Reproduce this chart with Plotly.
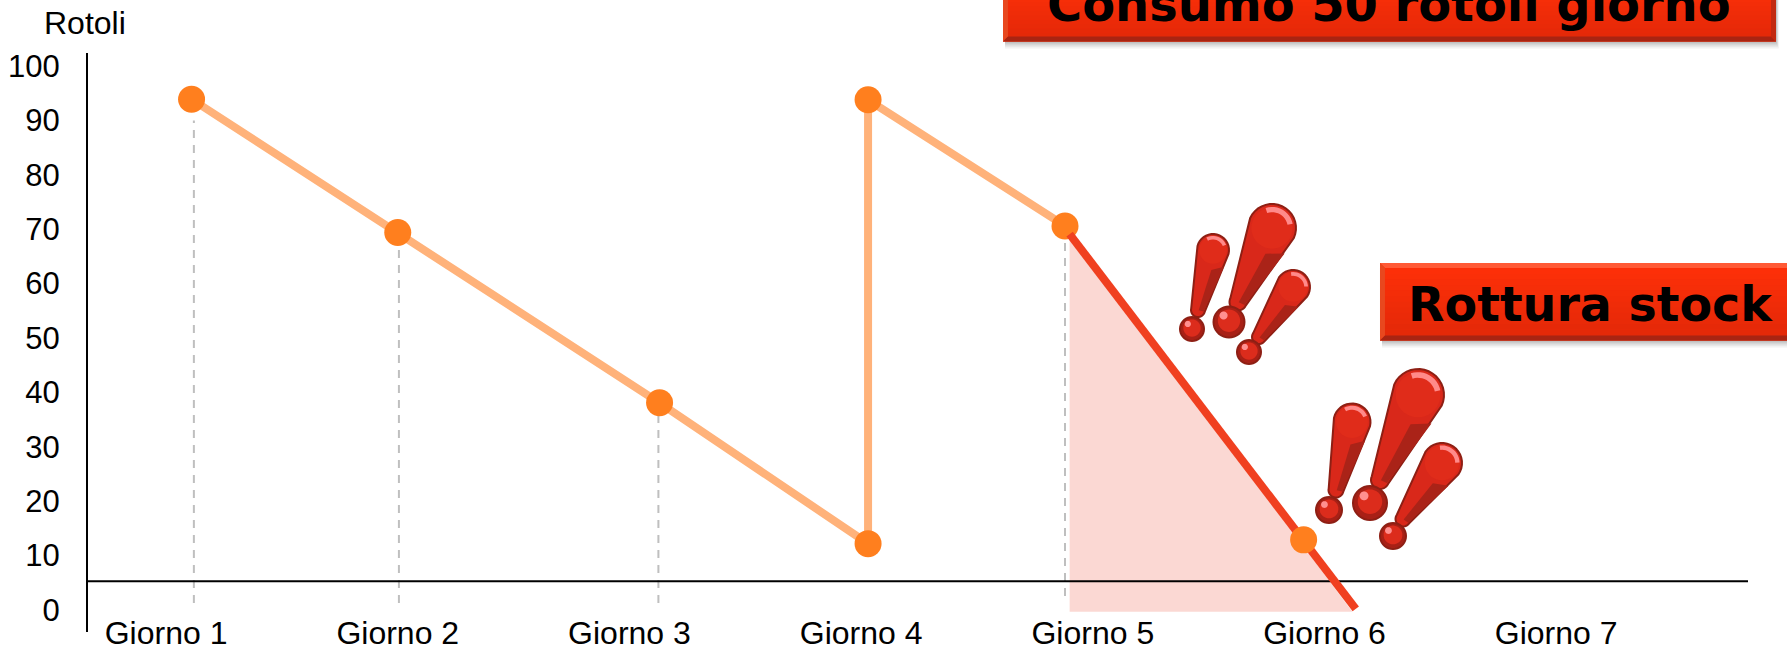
import math
import plotly.graph_objects as go

W, H = 1787, 647

# ---- data ----
day_labels = ["Giorno 1", "Giorno 2", "Giorno 3", "Giorno 4", "Giorno 5", "Giorno 6", "Giorno 7"]
day_ticks = [1, 2, 3, 4, 5, 6, 7]
y_ticks = [0, 10, 20, 30, 40, 50, 60, 70, 80, 90, 100]

stock_x = [1.11, 2.00, 3.13, 4.03, 4.03, 4.88]
stock_y = [93.9, 69.4, 38.1, 12.2, 93.8, 70.6]
marker_x = [1.11, 2.00, 3.13, 4.03, 4.03, 4.88]
marker_y = [93.9, 69.4, 38.1, 12.2, 93.8, 70.6]
last_x = [5.91]
last_y = [12.9]
break_x = [4.90, 6.135]
break_y = [69.1, 0.2]
area_x = [4.90, 4.90, 6.12]
area_y = [69.1, -0.3, -0.3]
drop_x = [1.12, 2.005, 3.125, 4.88]
drop_top = [90.0, 67.0, 36.0, 68.0]
drop_bottom = [1.3, 1.3, 1.3, 2.6]
baseline_y = 5.3
baseline_x = [0.284, 7.828]

ORANGE = "#FF7F1E"
ORANGE_L = "#FFB27A"
RED = "#F04020"
PINK = "#FBD8D3"
FONT = "Liberation Sans, Arial, sans-serif"
BOXFONT = "DejaVu Sans, Verdana, sans-serif"


def px(x):
    return x / W


def py(y):
    return 1 - y / H


traces = [
    go.Scatter(x=area_x, y=area_y, mode="lines", fill="toself", fillcolor=PINK,
               line=dict(width=0), hoverinfo="skip"),
]
for dx, t, b in zip(drop_x, drop_top, drop_bottom):
    traces.append(go.Scatter(x=[dx, dx], y=[b, t], mode="lines",
                             line=dict(color="#BFBFBF", width=2, dash="8px,7px"), hoverinfo="skip"))
traces += [
    go.Scatter(x=baseline_x, y=[baseline_y, baseline_y], mode="lines", cliponaxis=False,
               line=dict(color="#000000", width=2), hoverinfo="skip"),
    go.Scatter(x=stock_x, y=stock_y, mode="lines", line=dict(color=ORANGE_L, width=8)),
    go.Scatter(x=marker_x, y=marker_y, mode="markers", marker=dict(color=ORANGE, size=27)),
    go.Scatter(x=break_x, y=break_y, mode="lines", line=dict(color=RED, width=8), cliponaxis=False),
    go.Scatter(x=last_x, y=last_y, mode="markers", marker=dict(color=ORANGE, size=27)),
]

shapes = []


def rect(x0, y0, x1, y1, color):
    shapes.append(dict(type="rect", xref="paper", yref="paper", x0=px(x0), x1=px(x1),
                       y0=py(y1), y1=py(y0), fillcolor=color, line=dict(width=0), layer="above"))


def poly(points, color, line=None, lw=0):
    d = "M " + " L ".join(f"{px(x):.5f},{py(y):.5f}" for x, y in points) + " Z"
    shapes.append(dict(type="path", xref="paper", yref="paper", path=d, fillcolor=color,
                       line=dict(width=lw, color=line or color), layer="above"))


def circle(cx, cy, r, color, line=None, lw=0):
    pts = [(cx + r * math.cos(i * math.pi / 18), cy + r * math.sin(i * math.pi / 18)) for i in range(36)]
    poly(pts, color, line, lw)


def box(x0, y0, x1, y1):
    for i, a in zip((7, 5, 3, 1), (0.07, 0.10, 0.13, 0.16)):
        rect(x0 + 2, y0 + 4, x1 + i * 0.4, y1 + i, f"rgba(70,70,70,{a})")
    rect(x0, y0, x1, y1, "#F42C08")
    n = 14
    top, bot = (255, 48, 8), (226, 40, 8)
    for k in range(n):
        t = k / (n - 1)
        c = tuple(round(a + (b - a) * t) for a, b in zip(top, bot))
        rect(x0, y0 + (y1 - y0) * k / n, x1, y0 + (y1 - y0) * (k + 1) / n, f"rgb{c}")
    poly([(x0, y0), (x1, y0), (x1 - 5, y0 + 5), (x0 + 5, y0 + 5)], "#FF5A36")
    poly([(x0, y0), (x0 + 5, y0 + 5), (x0 + 5, y1 - 5), (x0, y1)], "#E8481F")
    poly([(x0, y1), (x1, y1), (x1 - 5, y1 - 5), (x0 + 5, y1 - 5)], "#A82412")
    poly([(x1, y0), (x1, y1), (x1 - 5, y1 - 5), (x1 - 5, y0 + 5)], "#C22A10")


def bang(hx, hy, hr, tx, ty, tr, dx, dy, dr):
    ang = math.atan2(ty - hy, tx - hx)
    nx, ny = -math.sin(ang), math.cos(ang)

    def outline(h, t):
        pts = []
        for i in range(19):
            a = ang + math.pi / 2 + i * math.pi / 18
            pts.append((hx + h * math.cos(a), hy + h * math.sin(a)))
        for i in range(19):
            a = ang - math.pi / 2 + i * math.pi / 18
            pts.append((tx + t * math.cos(a), ty + t * math.sin(a)))
        return pts

    poly(outline(hr, tr), "#D9281A", "#8E1F14", 2)
    poly([(hx - nx * hr * 0.92 + (tx - hx) * 0.22, hy - ny * hr * 0.92 + (ty - hy) * 0.22),
          (hx - nx * hr * 0.2 + (tx - hx) * 0.32, hy - ny * hr * 0.2 + (ty - hy) * 0.32),
          (tx - nx * tr * 0.1, ty - ny * tr * 0.1),
          (tx - nx * tr * 0.85, ty - ny * tr * 0.85)], "#AA2318")
    circle(hx, hy, hr * 0.86, "#E02C1A")
    a0 = ang + math.pi + 0.1
    pts = [(hx + hr * 0.88 * math.cos(a0 + i * 0.14), hy + hr * 0.88 * math.sin(a0 + i * 0.14)) for i in range(-6, 7)]
    pts += [(hx + hr * 0.66 * math.cos(a0 + i * 0.14), hy + hr * 0.66 * math.sin(a0 + i * 0.14)) for i in range(6, -7, -1)]
    poly(pts, "#FF8A8A")
    circle(dx, dy, dr, "#A82016", "#8E1F14", 2)
    circle(dx, dy - dr * 0.08, dr * 0.72, "#DC2C1C")
    circle(dx - dr * 0.35, dy - dr * 0.42, dr * 0.26, "#FF9090")


box(1003, -20, 1776, 41.5)
box(1380, 263, 1800, 340.5)

# exclamation groups: head x, y, r, tail x, y, r, ball x, y, r (picture pixels)
bangs_upper = [
    (1213, 250, 16, 1198, 310, 7, 1192, 329, 12),
    (1272, 228, 24, 1238, 302, 8.5, 1229, 322, 15.5),
    (1293, 287, 17, 1259, 337, 7, 1249, 352, 12),
]
bangs_lower = [
    (1352, 422, 18.5, 1336, 490, 7.5, 1329, 510, 13),
    (1418, 395, 26, 1380, 480, 9, 1370, 503, 17),
    (1442, 463, 20, 1403, 519, 7.5, 1393, 536, 13),
]
for b in bangs_upper + bangs_lower:
    bang(*b)

annotations = [
    dict(text="Rotoli", xref="paper", yref="paper", x=px(85), y=py(23), xanchor="center", yanchor="middle",
         showarrow=False, font=dict(family=FONT, size=32, color="#000000")),
    dict(text="<b>Consumo 50 rotoli giorno</b>", xref="paper", yref="paper", x=px(1389), y=py(5),
         xanchor="center", yanchor="middle", showarrow=False,
         font=dict(family=BOXFONT, size=47.9, color="#000000")),
    dict(text="<b>Rottura stock</b>", xref="paper", yref="paper", x=px(1590), y=py(304),
         xanchor="center", yanchor="middle", showarrow=False,
         font=dict(family=BOXFONT, size=47.5, color="#000000")),
]

fig = go.Figure(traces)
fig.update_layout(
    width=W, height=H, autosize=False, showlegend=False,
    margin=dict(l=0, r=0, t=0, b=0, pad=0, autoexpand=False),
    plot_bgcolor="#FFFFFF", paper_bgcolor="#FFFFFF",
    shapes=shapes, annotations=annotations,
    font=dict(family=FONT, size=31, color="#000000"),
    xaxis=dict(domain=[px(88), px(1748)], range=[0.663, 7.828], tickvals=day_ticks, ticktext=day_labels,
               showgrid=False, zeroline=False, showline=False, ticks="", anchor="free", position=py(611),
               tickfont=dict(family=FONT, size=32, color="#000000")),
    yaxis=dict(domain=[py(632), py(53)], range=[-4.04, 102.4], tickvals=y_ticks,
               showgrid=False, zeroline=False, showline=True, linecolor="#000000", linewidth=2,
               ticks="outside", ticklen=20, tickcolor="rgba(0,0,0,0)",
               tickfont=dict(family=FONT, size=31, color="#000000")),
)
fig.write_html("out.html", config=dict(displayModeBar=False),
               post_script="document.body.style.margin='0';document.body.style.overflow='hidden';")
